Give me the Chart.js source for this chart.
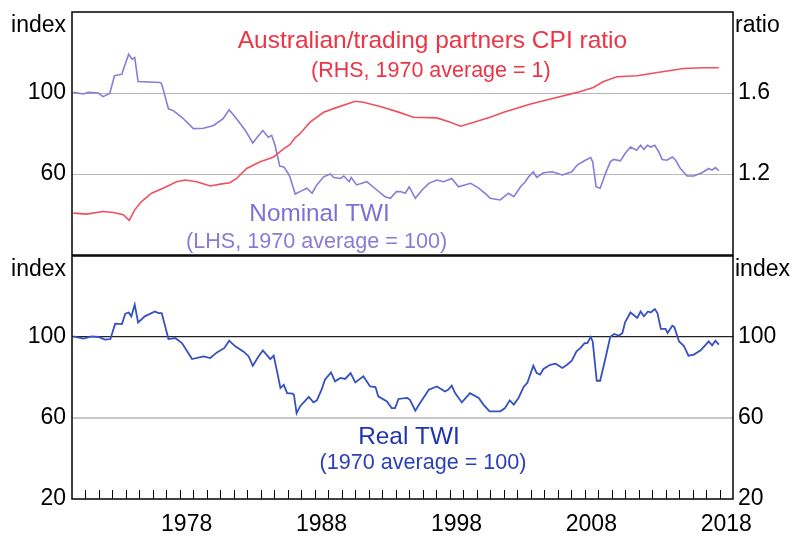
<!DOCTYPE html>
<html>
<head>
<meta charset="utf-8">
<script src="https://cdn.jsdelivr.net/npm/chart.js@4.4.1/dist/chart.umd.min.js"></script>
<style>
  body { margin: 0; background: #fff; }
  #wrap { position: relative; width: 795px; height: 536px; overflow: hidden; }
  canvas { position: absolute; left: 0; }
  #topChart { top: 0; }
  #botChart { top: 250px; }
</style>
</head>
<body>
<div id="wrap">
  <canvas id="topChart" width="795" height="256"></canvas>
  <canvas id="botChart" width="795" height="286"></canvas>
</div>
<script>
const FONT = "'Liberation Sans', Arial, sans-serif";

// x-axis labels (years, label sits in the middle of the year)
const labelYears = [1978, 1988, 1998, 2008, 2018];

// Nominal TWI (LHS, 1970 average = 100)
const nominalYears = [1970.1, 1970.85, 1971.2, 1971.95, 1972.3, 1972.8, 1973.15, 1973.7, 1973.85, 1974.2,
  1974.45, 1974.65, 1974.9, 1976.55, 1976.65, 1977.15, 1977.5, 1978.15, 1979.0, 1979.75,
  1980.5, 1981.2, 1981.65, 1982.2, 1982.85, 1983.4, 1983.7, 1984.15, 1984.55, 1984.8,
  1985.05, 1985.4, 1985.7, 1986.05, 1986.15, 1986.55, 1986.9, 1987.4, 1987.8, 1988.15,
  1988.65, 1989.15, 1989.4, 1989.9, 1990.15, 1990.55, 1990.7, 1991.1, 1991.85, 1992.6,
  1993.2, 1993.6, 1994.05, 1994.35, 1994.7, 1995.0, 1995.45, 1995.95, 1996.45, 1997.05,
  1997.55, 1998.15, 1998.65, 1999.55, 2000.15, 2000.75, 2001.0, 2001.75, 2002.35, 2002.75,
  2003.25, 2003.6, 2003.85, 2004.2, 2004.45, 2004.95, 2005.6, 2006.35, 2007.05, 2007.45,
  2008.05, 2008.45, 2008.6, 2008.85, 2009.15, 2009.55, 2009.9, 2010.15, 2010.65, 2011.0,
  2011.4, 2011.85, 2012.15, 2012.4, 2012.65, 2012.9, 2013.2, 2013.5, 2013.75, 2014.1,
  2014.5, 2014.75, 2015.1, 2015.6, 2016.1, 2016.7, 2017.2, 2017.45, 2017.7, 2017.95];
const nominalTwi = [100.3, 99.5, 100.3, 100, 98.2, 99.8, 108.5, 109.3, 112.5, 119.1,
  116.7, 117.5, 105.7, 105.2, 104.4, 92.2, 91.3, 88.0, 82.4, 82.6,
  84, 87.3, 91.7, 87.3, 81.5, 75.3, 77.9, 81.5, 78.2, 79.1,
  74.2, 63.9, 63.5, 60, 58.6, 50.1, 51.3, 53, 50.5, 54.6,
  58.6, 60, 58.3, 57.8, 59, 56.2, 58.3, 54.6, 56.2, 52.1,
  48.8, 48, 51.3, 51.3, 50.5, 53.7, 48, 52.1, 55.4, 57,
  56.2, 57.8, 53.7, 55.4, 53, 49.7, 48, 47.2, 50.5, 48.8,
  53.7, 56.2, 58.6, 61.1, 58.3, 60.6, 61.1, 59.5, 61.1, 64.4,
  66.8, 68.1, 66, 53.7, 53, 60.3, 66, 67.2, 66.5, 70.1,
  73.3, 71.7, 74.2, 72.1, 74.2, 73.3, 74.2, 70.9, 67.2, 66.8,
  68.4, 66.8, 62.7, 59, 59, 60.6, 62.7, 61.9, 63.2, 61.6];

// Australian/trading partners CPI ratio (RHS, 1970 average = 1)
const cpiYears = [1970.1, 1971.1, 1972.3, 1973.05, 1973.8, 1974.25, 1974.65, 1975.15, 1975.9, 1976.75,
  1977.75, 1978.4, 1979.25, 1980.25, 1981.0, 1981.7, 1982.2, 1982.95, 1983.95, 1984.95,
  1985.7, 1986.15, 1986.55, 1986.9, 1987.65, 1988.65, 1989.65, 1991.0, 1991.6, 1992.85,
  1994.1, 1995.3, 1997.05, 1998.05, 1998.8, 1999.55, 2001.0, 2002.0, 2002.85, 2004.0,
  2005.7, 2007.45, 2008.65, 2009.4, 2010.4, 2011.9, 2013.4, 2015.35, 2016.85, 2017.95];
const cpiRatio = [1.007, 1.002, 1.015, 1.01, 0.999, 0.971, 1.023, 1.064, 1.105, 1.13,
  1.162, 1.17, 1.162, 1.141, 1.15, 1.157, 1.178, 1.227, 1.26, 1.284,
  1.325, 1.345, 1.38, 1.399, 1.456, 1.505, 1.529, 1.559, 1.554, 1.533,
  1.508, 1.48, 1.477, 1.456, 1.436, 1.451, 1.48, 1.505, 1.522, 1.546,
  1.574, 1.603, 1.627, 1.657, 1.68, 1.685, 1.701, 1.721, 1.725, 1.725];

// Real TWI (1970 average = 100)
const realYears = [1970.1, 1970.85, 1971.45, 1971.95, 1972.45, 1972.85, 1973.2, 1973.7, 1973.95, 1974.2,
  1974.4, 1974.65, 1974.9, 1975.4, 1976.15, 1976.4, 1976.65, 1977.15, 1977.65, 1978.15,
  1978.9, 1979.75, 1980.25, 1980.75, 1981.3, 1981.65, 1982.1, 1982.7, 1983.1, 1983.4,
  1983.8, 1984.15, 1984.7, 1984.95, 1985.2, 1985.45, 1985.7, 1985.95, 1986.35, 1986.45,
  1986.65, 1986.9, 1987.55, 1987.9, 1988.15, 1988.5, 1988.75, 1989.2, 1989.5, 1989.9,
  1990.25, 1990.65, 1991.0, 1991.6, 1992.1, 1992.5, 1992.7, 1993.35, 1993.7, 1993.95,
  1994.2, 1994.85, 1995.05, 1995.45, 1995.8, 1996.45, 1997.05, 1997.65, 1997.9, 1998.15,
  1998.4, 1998.9, 1999.5, 2000.15, 2000.5, 2000.95, 2001.75, 2002.1, 2002.45, 2002.75,
  2003.1, 2003.5, 2003.75, 2004.2, 2004.45, 2004.7, 2004.95, 2005.45, 2005.85, 2006.35,
  2006.7, 2007.05, 2007.4, 2007.7, 2008.0, 2008.2, 2008.45, 2008.6, 2008.9, 2009.15,
  2009.55, 2009.9, 2010.2, 2010.55, 2010.8, 2011.0, 2011.4, 2011.9, 2012.15, 2012.4,
  2012.7, 2012.9, 2013.2, 2013.4, 2013.65, 2014.0, 2014.15, 2014.5, 2014.65, 2015.0,
  2015.35, 2015.7, 2016.1, 2016.6, 2017.2, 2017.45, 2017.7, 2017.95];
const realTwi = [100.3, 99.2, 100.3, 100, 98.7, 99, 106.6, 106.4, 111.5, 112.1,
  110.2, 116, 107.2, 110.2, 112.6, 111.8, 111.8, 99, 99.5, 97,
  89.1, 90.4, 89.6, 92.4, 94.6, 98.2, 95.4, 92.9, 90.4, 85.8,
  90.1, 93.4, 89.1, 90.8, 83.0, 74.8, 76.4, 72.3, 72.0, 71.5,
  62.3, 65.7, 70.4, 67.7, 68.7, 74, 78.9, 82.5, 78.1, 79.8,
  79.3, 82.2, 77.6, 80.6, 75.6, 75.3, 70.7, 68.2, 64.9, 64.9,
  69.4, 69.9, 69, 63.6, 67.4, 74, 75.6, 73.1, 74, 76,
  72.3, 67.7, 72.3, 69.9, 66.6, 63.3, 63.3, 64.9, 68.7, 66.6,
  69.9, 75.6, 77.3, 85.8, 82.2, 81.4, 84.2, 86.3, 86.8, 84.7,
  86.3, 88.3, 92.9, 94.6, 97, 97, 100, 97.8, 78.4, 78.4,
  89.6, 100.1, 101.5, 100.6, 102, 107.2, 112.1, 109.4, 112.6, 110.2,
  112.6, 112.1, 113.8, 111.8, 104, 104, 102, 105.6, 104.9, 97.8,
  95.7, 90.8, 91.3, 93.4, 97.8, 95.9, 98.2, 96.2];

const toPoints = (xs, ys) => xs.map((x, i) => ({ x, y: ys[i] }));

// frame, inward year ticks, unit labels and series notes
const panelDecor = {
  id: 'panelDecor',
  afterDraw(chart, args, opts) {
    const { ctx, chartArea: a, scales } = chart;
    ctx.save();
    ctx.strokeStyle = '#000';
    ctx.lineWidth = 1.5;
    ctx.strokeRect(a.left, a.top, a.right - a.left, a.bottom - a.top);

    if (opts.yearTicks) {
      ctx.lineWidth = 1;
      ctx.beginPath();
      for (let y = 1971; y < 2019; y++) {
        const px = Math.round(scales.x.getPixelForValue(y)) + 0.5;
        ctx.moveTo(px, a.bottom);
        ctx.lineTo(px, a.bottom - 9);
      }
      ctx.stroke();
    }

    ctx.fillStyle = '#000';
    ctx.font = '23px ' + FONT;
    ctx.textBaseline = 'alphabetic';
    ctx.textAlign = 'right';
    ctx.fillText(opts.leftUnit, a.left - 6, a.top + 19.5);
    ctx.textAlign = 'left';
    ctx.fillText(opts.rightUnit, a.right + 2, a.top + 19.5);

    ctx.textAlign = 'center';
    opts.notes.forEach(n => {
      ctx.font = n.size + 'px ' + FONT;
      ctx.fillStyle = n.color;
      ctx.fillText(n.text, scales.x.getPixelForValue(n.year), scales.y.getPixelForValue(n.value));
    });
    ctx.restore();
  }
};

const tickFont = { family: FONT, size: 23 };
// fixed axis width, and no extra room for half-labels at the ends
const fitWidth = w => scale => {
  scale.width = w;
  scale.paddingTop = 0;
  scale.paddingBottom = 0;
};

// Top panel: nominal TWI and CPI ratio
new Chart(document.getElementById("topChart").getContext("2d"), {
  type: 'line',
  data: {
    datasets: [
      {
        data: toPoints(cpiYears, cpiRatio),
        yAxisID: 'yr',
        borderColor: '#f0505e',
        borderWidth: 1.6,
        pointRadius: 0,
        tension: 0
      },
      {
        data: toPoints(nominalYears, nominalTwi),
        yAxisID: 'y',
        borderColor: '#8b7bd8',
        borderWidth: 1.6,
        pointRadius: 0,
        tension: 0
      }
    ]
  },
  options: {
    responsive: false,
    animation: false,
    layout: { padding: { top: 12, bottom: 1, left: 0, right: 0 } },
    plugins: {
      legend: { display: false },
      tooltip: { enabled: false },
      panelDecor: {
        leftUnit: 'index',
        rightUnit: 'ratio',
        notes: [
          { text: 'Australian/trading partners CPI ratio', year: 1996.72, value: 122.0, size: 24.5, color: '#ee3344' },
          { text: '(RHS, 1970 average = 1)', year: 1996.6, value: 108.1, size: 21.5, color: '#ee3344' },
          { text: 'Nominal TWI', year: 1988.35, value: 36.9, size: 24.3, color: '#7f6fd6' },
          { text: '(LHS, 1970 average = 100)', year: 1988.13, value: 23.3, size: 21.6, color: '#8a7ad8' }
        ]
      }
    },
    scales: {
      x: { type: 'linear', min: 1970, max: 2019, display: false },
      y: {
        position: 'left', min: 20, max: 140,
        afterFit: fitWidth(72),
        border: { display: false },
        grid: {
          drawTicks: false,
          color: c => (c.tick.value === 60 || c.tick.value === 100) ? '#b8b8b8' : 'rgba(0,0,0,0)'
        },
        ticks: {
          stepSize: 40, padding: 6, color: '#000', font: tickFont,
          callback: v => (v === 60 || v === 100) ? String(v) : ''
        }
      },
      yr: {
        position: 'right', min: 0.8, max: 2.0,
        afterFit: fitWidth(62),
        border: { display: false },
        grid: { display: false, drawTicks: false },
        ticks: {
          stepSize: 0.4, padding: 5, color: '#000', font: tickFont,
          callback: v => {
            const r = Math.round(v * 10) / 10;
            return (r === 1.2 || r === 1.6) ? r.toFixed(1) : '';
          }
        }
      }
    }
  },
  plugins: [panelDecor]
});

// Bottom panel: real TWI
new Chart(document.getElementById("botChart").getContext("2d"), {
  type: 'line',
  data: {
    datasets: [{
      data: toPoints(realYears, realTwi),
      yAxisID: 'y',
      borderColor: '#3550c0',
      borderWidth: 1.8,
      pointRadius: 0,
      tension: 0
    }]
  },
  options: {
    responsive: false,
    animation: false,
    layout: { padding: { top: 6, bottom: 0, left: 0, right: 0 } },
    plugins: {
      legend: { display: false },
      tooltip: { enabled: false },
      panelDecor: {
        leftUnit: 'index',
        rightUnit: 'index',
        yearTicks: true,
        notes: [
          { text: 'Real TWI', year: 1994.98, value: 47.2, size: 24.4, color: '#1f34b0' },
          { text: '(1970 average = 100)', year: 1996.02, value: 34.8, size: 21.6, color: '#2a3fb8' }
        ]
      }
    },
    scales: {
      x: {
        type: 'linear', min: 1970, max: 2019,
        afterFit: s => { s.height = 37; s.paddingLeft = 0; s.paddingRight = 0; },
        afterBuildTicks: s => { s.ticks = labelYears.map(v => ({ value: v + 0.5 })); },
        border: { display: false },
        grid: { display: false, drawTicks: false },
        ticks: {
          autoSkip: false, maxRotation: 0, padding: 12, color: '#000', font: tickFont,
          callback: v => String(Math.floor(v))
        }
      },
      y: {
        position: 'left', min: 20, max: 140,
        afterFit: fitWidth(72),
        border: { display: false },
        grid: {
          drawTicks: false,
          color: c => c.tick.value === 100 ? '#222' : (c.tick.value === 60 ? '#c8c8c8' : 'rgba(0,0,0,0)'),
          lineWidth: c => c.tick.value === 60 ? 2 : 1.2
        },
        ticks: {
          stepSize: 40, padding: 6, color: '#000', font: tickFont,
          callback: v => v < 140 ? String(v) : ''
        }
      },
      yr: {
        position: 'right', min: 20, max: 140,
        afterFit: fitWidth(62),
        border: { display: false },
        grid: { display: false, drawTicks: false },
        ticks: {
          stepSize: 40, padding: 5, color: '#000', font: tickFont,
          callback: v => v < 140 ? String(v) : ''
        }
      }
    }
  },
  plugins: [panelDecor]
});
</script>
</body>
</html>
